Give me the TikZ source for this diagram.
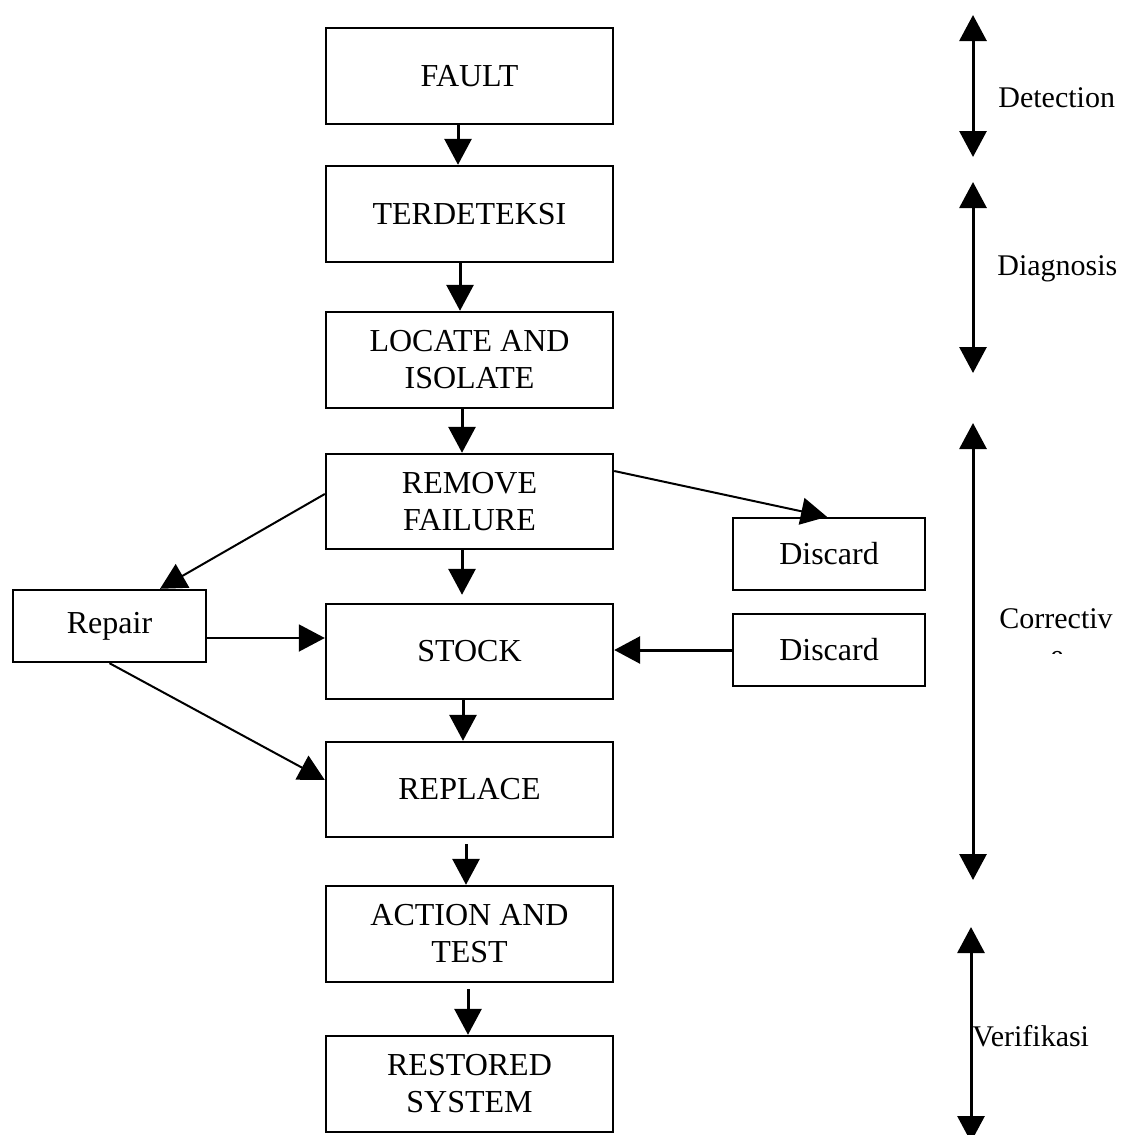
\documentclass[tikz,border=0pt]{standalone}
\usepackage{fontspec}
\setmainfont{Liberation Serif}
\usetikzlibrary{arrows.meta,calc}
\begin{document}
\begin{tikzpicture}[x=0.5pt,y=-0.5pt,
  box/.style={draw,line width=1.2pt,inner sep=0pt,align=center,
    font=\fontsize{16pt}{18.5pt}\selectfont},
  mainbox/.style={box,minimum width=143.5pt,minimum height=48pt},
  sidebox/.style={box,minimum width=96pt,minimum height=36pt},
  flow/.style={line width=1.5pt,-{Triangle[width=13.5pt,length=13pt]}},
  thinflow/.style={line width=1pt,-{Triangle[width=13.5pt,length=13pt]}},
  phase/.style={line width=1.5pt,{Triangle[width=13.5pt,length=13pt]}-{Triangle[width=13.5pt,length=13pt]}},
  lbl/.style={anchor=base west,inner sep=0pt,font=\fontsize{15pt}{18pt}\selectfont}]
\useasboundingbox (0,0) rectangle (1124,1135);

% main column
\node[mainbox] (fault)    at (469.5,76)   {FAULT};
\node[mainbox] (terd)     at (469.5,214)  {TERDETEKSI};
\node[mainbox] (locate)   at (469.5,360)  {LOCATE AND\\ISOLATE};
\node[mainbox,minimum height=47.5pt] (remove)   at (469.5,501.5) {REMOVE\\FAILURE};
\node[mainbox,minimum height=47.5pt] (stock)    at (469.5,651.5) {STOCK};
\node[mainbox,minimum height=47.5pt] (replace)  at (469.5,789.5) {REPLACE};
\node[mainbox] (action)   at (469.5,934)  {ACTION AND\\TEST};
\node[mainbox] (restored) at (469.5,1084) {RESTORED\\SYSTEM};

% side boxes
\node[sidebox,minimum width=96.5pt] (repair) at (109.5,626) {Repair};
\node[sidebox] (discardA) at (829,554) {Discard};
\node[sidebox] (discardB) at (829,650) {Discard};

% main flow arrows
\draw[flow] ([xshift=-5.75pt]fault.south) -- ([xshift=-5.75pt]terd.north);
\draw[flow] ([xshift=-4.75pt]terd.south) -- ([xshift=-4.75pt]locate.north);
\draw[flow] ([xshift=-3.75pt]locate.south) -- ([xshift=-3.75pt]remove.north);
\draw[flow] ([xshift=-3.75pt]remove.south) -- ([xshift=-3.75pt,yshift=4pt]stock.north);
\draw[flow] ([xshift=-3.25pt]stock.south) -- ([xshift=-3.25pt]replace.north);
\draw[flow] ([xshift=-1.75pt,yshift=-3pt]replace.south) -- ([xshift=-1.75pt]action.north);
\draw[flow] ([xshift=-0.75pt,yshift=-3pt]action.south) -- ([xshift=-0.75pt]restored.north);

% side arrows
\draw[thinflow] ([yshift=3.75pt]remove.west) -- ([xshift=25.25pt]repair.north);
\draw[thinflow] ([yshift=15.25pt]remove.east) -- ([xshift=-1pt]discardA.north);
\draw[thinflow] ([yshift=-6pt]repair.east) -- ([yshift=6.75pt]stock.west);
\draw[thinflow] (repair.south) -- ([yshift=4.75pt]replace.west);
\draw[flow] (discardB.west) -- (stock.east |- discardB.west);

% phase arrows
\coordinate (det1) at (973,15);   \coordinate (det2) at (973,157);
\coordinate (dia1) at (973,182);  \coordinate (dia2) at (973,373);
\coordinate (cor1) at (973,423);  \coordinate (cor2) at (973,880);
\coordinate (ver1) at (971,927);  \coordinate (ver2) at (971,1142);
\draw[phase] (det1) -- (det2);
\draw[phase] (dia1) -- (dia2);
\draw[phase] (cor1) -- (cor2);
\begin{scope}
\clip (0,0) rectangle (1124,1135);
\draw[phase] (ver1) -- (ver2);
\end{scope}

% phase labels
\node[lbl] (ldet) at (998,107)  {Detection};
\node[lbl] (ldia) at (997,275)  {Diagnosis};
\node[lbl] (lcor) at (999,628)  {Correctiv};
\node[lbl] (lver) at (972,1046) {Verifikasi};
\begin{scope}
\clip (1040,645) rectangle (1080,653.5);
\node[lbl] (lcore) at (1050,665) {e};
\end{scope}
\end{tikzpicture}
\end{document}
